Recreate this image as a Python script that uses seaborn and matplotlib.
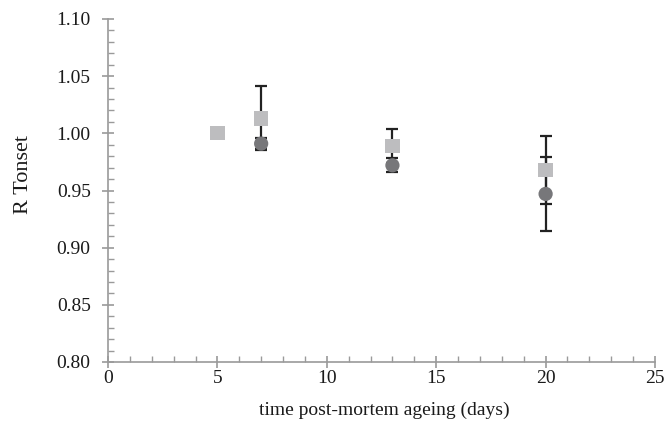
import matplotlib
matplotlib.use("Agg")
import matplotlib.pyplot as plt
import seaborn as sns
import pandas as pd
import numpy as np
from matplotlib.ticker import MultipleLocator, FormatStrFormatter

sns.set_style("white")
plt.rcParams['font.family'] = ['Liberation Serif', 'DejaVu Serif']

# data
sq_days = [5, 7, 13, 20]
sq_vals = [1.000, 1.013, 0.989, 0.968]
sq_err = [0.0, 0.028, 0.015, 0.030]
ci_days = [7, 13, 20]
ci_vals = [0.991, 0.972, 0.947]
ci_err = [0.005, 0.006, 0.032]

df = pd.DataFrame({
    "day": sq_days + ci_days,
    "val": sq_vals + ci_vals,
    "err": sq_err + ci_err,
    "series": ["sq"] * len(sq_days) + ["ci"] * len(ci_days),
})

fig = plt.figure(figsize=(6.66, 4.32), dpi=100)
ax = fig.add_axes([108/666, 1-362/432, (655-108)/666, (362-19)/432])

grey = "#9a9a9a"
# error bars
for s in ["sq", "ci"]:
    d = df[df.series == s]
    d = d[d.err > 0]
    ax.errorbar(d.day, d.val, yerr=d.err, fmt="none", ecolor="#222222",
                elinewidth=1.6, capsize=4, capthick=1.6, zorder=2)

sns.scatterplot(data=df, x="day", y="val", hue="series", style="series",
                markers={"sq": "s", "ci": "o"},
                palette={"sq": "#bdbdbf", "ci": "#77777a"},
                s=105, edgecolor="none", legend=False, ax=ax, zorder=3)

ax.set_xlim(0, 25)
ax.set_ylim(0.80, 1.10)
ax.xaxis.set_major_locator(MultipleLocator(5))
ax.xaxis.set_minor_locator(MultipleLocator(1))
ax.yaxis.set_major_locator(MultipleLocator(0.05))
ax.yaxis.set_minor_locator(MultipleLocator(0.01))
ax.yaxis.set_major_formatter(FormatStrFormatter("%.2f"))

for sp in ["top", "right"]:
    ax.spines[sp].set_visible(False)
for sp in ["left", "bottom"]:
    ax.spines[sp].set_color(grey)
    ax.spines[sp].set_linewidth(1.2)

ax.tick_params(which="major", direction="inout", length=9, width=1.2, color=grey,
               labelsize=14, labelcolor="#1a1a1a")
ax.tick_params(axis="y", which="major", pad=8)
ax.tick_params(axis="x", which="major", pad=1)
ax.tick_params(which="minor", direction="in", length=4, width=1.0, color=grey)
ax.tick_params(axis="both", which="both", bottom=True, left=True)

ax.set_xlabel("time post-mortem ageing (days)", fontsize=14, color="#1a1a1a")
ax.set_ylabel("R Tonset", fontsize=16, color="#1a1a1a")
ax.xaxis.set_label_coords((384-108)/(655-108), (362-410)/(362-19))
ax.yaxis.set_label_coords((24-108)/(655-108), (362-175)/(362-19))
ax.xaxis.label.set_va("center")
ax.yaxis.label.set_va("center")

fig.savefig("out.png", dpi=100)
